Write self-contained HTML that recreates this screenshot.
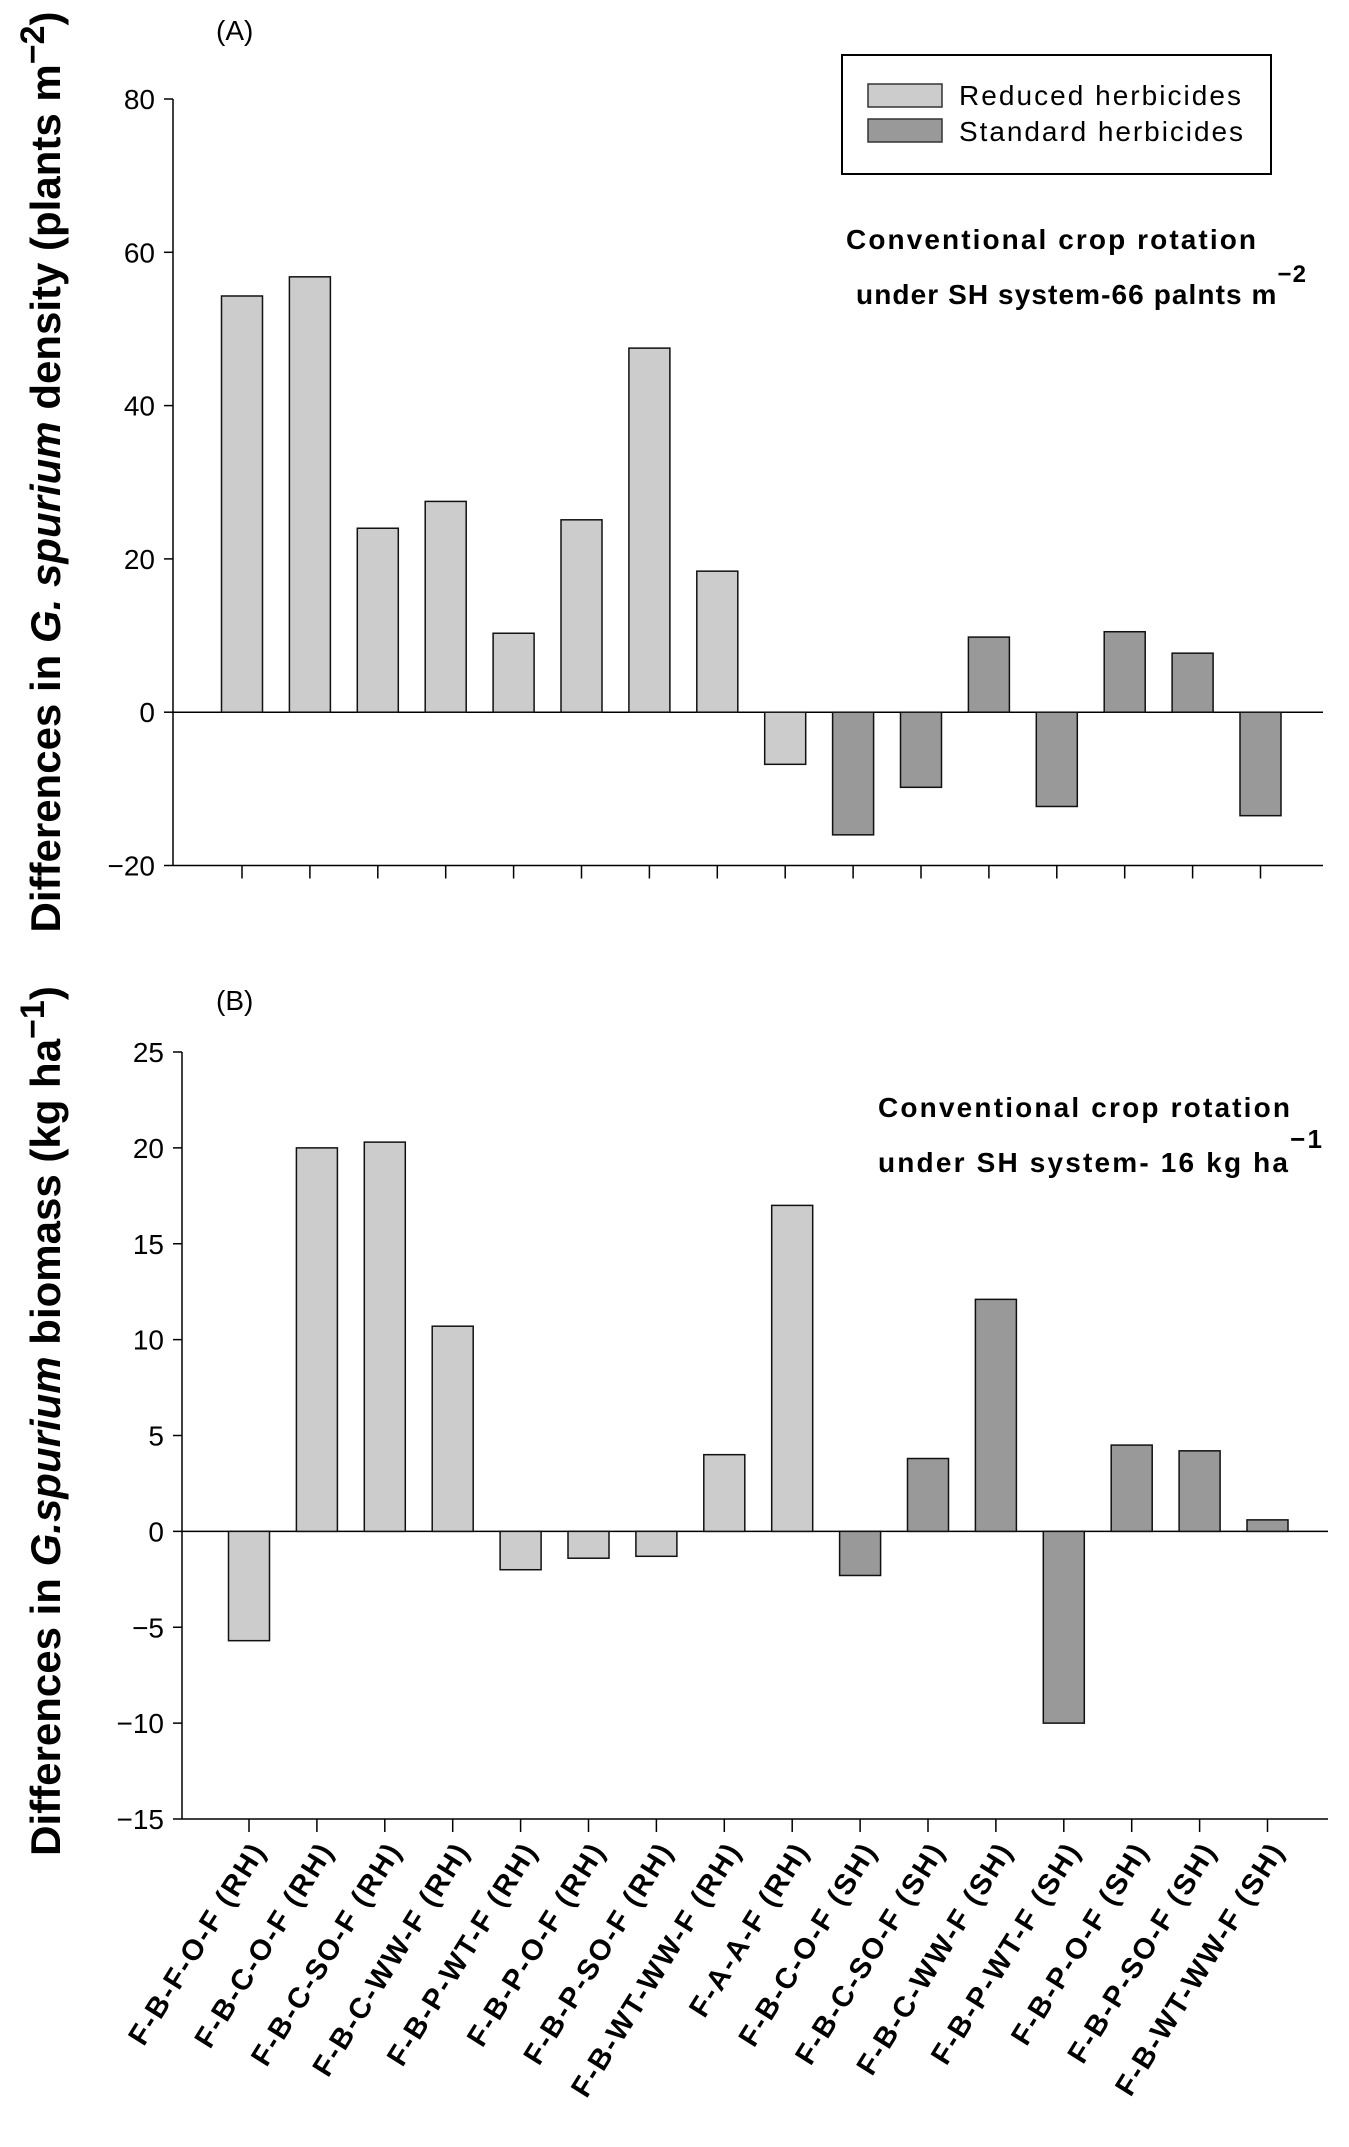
<!DOCTYPE html>
<html><head><meta charset="utf-8"><style>
html,body{margin:0;padding:0;background:#fff}
svg{display:block}
text{font-family:"Liberation Sans",Arial,sans-serif;fill:#000}
</style></head><body>
<svg id="chart" width="1349" height="2147" viewBox="0 0 1349 2147" xmlns="http://www.w3.org/2000/svg">
<g id="gA"></g>
<g id="gB"></g>
</svg>
<script>
const categories = ["F-B-F-O-F (RH)","F-B-C-O-F (RH)","F-B-C-SO-F  (RH)","F-B-C-WW-F (RH)","F-B-P-WT-F (RH)","F-B-P-O-F (RH)","F-B-P-SO-F (RH)","F-B-WT-WW-F (RH)","F-A-A-F (RH)","F-B-C-O-F (SH)","F-B-C-SO-F  (SH)","F-B-C-WW-F (SH)","F-B-P-WT-F (SH)","F-B-P-O-F (SH)","F-B-P-SO-F (SH)","F-B-WT-WW-F (SH)"];
const systems = ["RH","RH","RH","RH","RH","RH","RH","RH","RH","SH","SH","SH","SH","SH","SH","SH"];
const densityValues = [54.3,56.8,24,27.5,10.3,25.1,47.5,18.4,-6.8,-16,-9.8,9.8,-12.3,10.5,7.7,-13.5];
const biomassValues = [-5.7,20,20.3,10.7,-2,-1.4,-1.3,4,17,-2.3,3.8,12.1,-10,4.5,4.2,0.6];
const densityTicks = [-20,0,20,40,60,80];
const biomassTicks = [-15,-10,-5,0,5,10,15,20,25];

const NS="http://www.w3.org/2000/svg";
function el(tag,attrs,parent,txt){const e=document.createElementNS(NS,tag);for(const k in attrs)e.setAttribute(k,attrs[k]);if(txt!==undefined)e.textContent=txt;parent.appendChild(e);return e;}

function panel(g,cfg){
  const y=v=>cfg.y0+(v-cfg.vmin)/(cfg.vmax-cfg.vmin)*(cfg.y1-cfg.y0);
  const x=i=>cfg.xFirst+i*cfg.step;
  const yax=el('line',{x1:cfg.axX,x2:cfg.axX,y1:y(cfg.vmax),y2:y(cfg.vmin),stroke:'#000','stroke-width':1.5},g);
  
  
  cfg.ticks.forEach(t=>{
    const tl=el('line',{x1:cfg.axX-9,x2:cfg.axX,y1:y(t),y2:y(t),stroke:'#000','stroke-width':1.5},g);
    
    
    const tx=el('text',{x:cfg.axX-18,y:y(t)+10,'text-anchor':'end','font-size':28},g,t<0?'\u2212'+Math.abs(t):String(t));
    
    
  });
  const xax=el('line',{x1:cfg.axX,x2:cfg.xEnd,y1:y(cfg.vmin),y2:y(cfg.vmin),stroke:'#000','stroke-width':1.5},g);
  
  
  const zl=el('line',{x1:cfg.axX,x2:cfg.xEnd,y1:y(0),y2:y(0),stroke:'#000','stroke-width':1.5},g);
  
  
  cfg.values.forEach((v,i)=>{
    const top=Math.min(y(v),y(0)),h=Math.abs(y(v)-y(0));
    const r=el('rect',{x:x(i)-20.5,y:top,width:41,height:h,fill:systems[i]==='RH'?'#cccccc':'#999999',stroke:'#111','stroke-width':1.5},g);
    
    
    const tk=el('line',{x1:x(i),x2:x(i),y1:y(cfg.vmin),y2:y(cfg.vmin)+13,stroke:'#000','stroke-width':1.5},g);
    
    
  });
  return {x,y};
}

const gA=document.getElementById('gA');
panel(gA,{y0:865.5,y1:99,vmin:-20,vmax:80,axX:173,xEnd:1323,xFirst:242,step:67.9,ticks:densityTicks,values:densityValues});
const gB=document.getElementById('gB');
const pb=panel(gB,{y0:1819,y1:1052,vmin:-15,vmax:25,axX:182,xEnd:1328,xFirst:249,step:67.9,ticks:biomassTicks,values:biomassValues});

categories.forEach((c,i)=>{
  const px=pb.x(i)+18, py=1850;
  const t=el('text',{x:px,y:py,'text-anchor':'end','font-size':29,'font-weight':'bold','letter-spacing':2,transform:`rotate(-58 ${px} ${py})`},gB,c);
  
  
});
</script>
<svg style="position:absolute;left:0;top:0" width="1349" height="2147" xmlns="http://www.w3.org/2000/svg">
<text x="216" y="40" font-size="28">(A)</text>
<text x="216" y="1010" font-size="28">(B)</text>
<g>
<rect x="842" y="55" width="429" height="119" fill="#fff" stroke="#000" stroke-width="2"/>
<rect x="868" y="84" width="74" height="23" fill="#cccccc" stroke="#333" stroke-width="1.5"/>
<text x="959" y="105" font-size="28" textLength="282">Reduced herbicides</text>
<rect x="868" y="119" width="74" height="23" fill="#999999" stroke="#333" stroke-width="1.5"/>
<text x="959" y="141" font-size="28" textLength="284">Standard herbicides</text>
</g>
<text x="846" y="249" font-size="28" font-weight="bold" textLength="410">Conventional crop rotation</text>
<text x="856" y="304" font-size="28" font-weight="bold" textLength="450">under SH system-66 palnts m<tspan dy="-22" font-size="24">−2</tspan></text>
<text x="878" y="1117" font-size="28" font-weight="bold" textLength="412">Conventional crop rotation</text>
<text x="878" y="1172" font-size="28" font-weight="bold" textLength="444">under SH system- 16 kg ha<tspan dy="-24" font-size="26">−1</tspan></text>
<text transform="translate(60 472) rotate(-90)" text-anchor="middle" font-size="42" font-weight="bold">Differences in <tspan font-style="italic">G. spurium</tspan> density (plants m<tspan dy="-16" font-size="34">−2</tspan><tspan dy="16">)</tspan></text>
<text transform="translate(60 1421) rotate(-90)" text-anchor="middle" font-size="42" font-weight="bold">Differences in <tspan font-style="italic">G.spurium</tspan> biomass (kg ha<tspan dy="-16" font-size="34">−1</tspan><tspan dy="16">)</tspan></text>
</svg>
</body></html>
